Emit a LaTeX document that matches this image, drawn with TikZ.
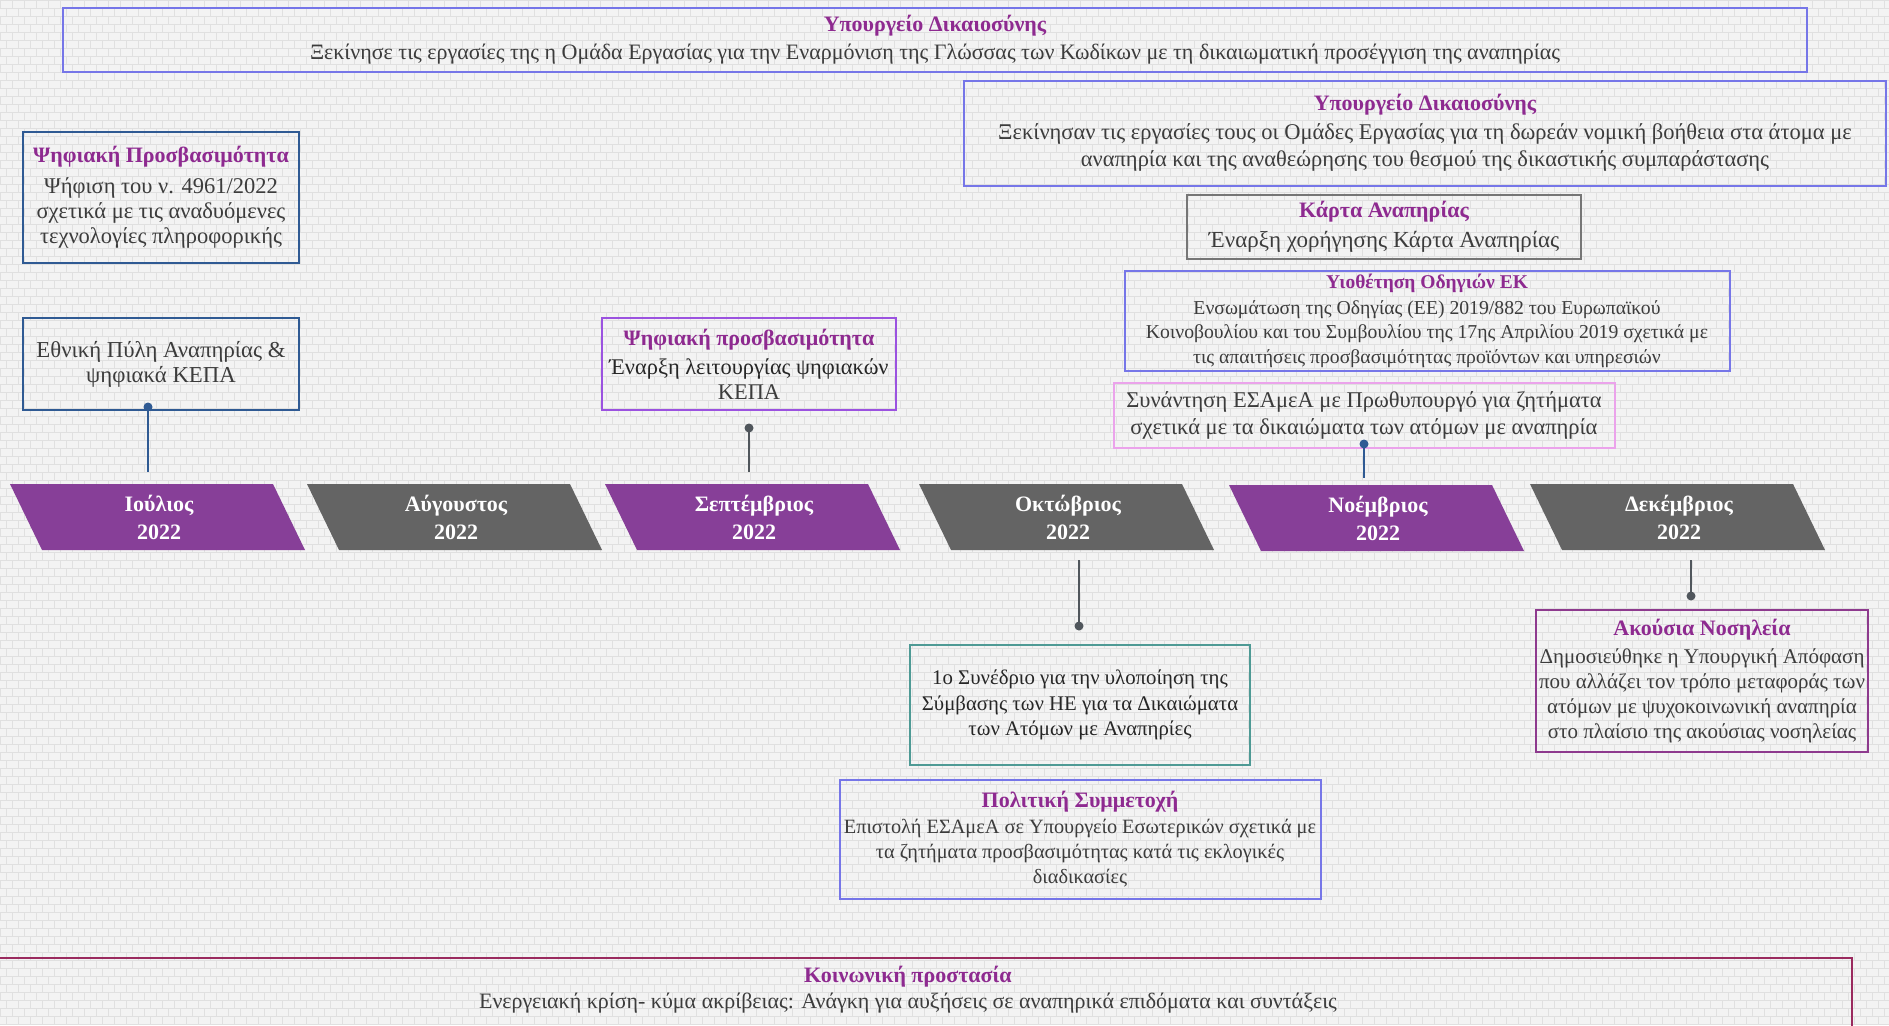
\documentclass[tikz,border=0pt]{standalone}
\usepackage{fontspec}
\setmainfont{Liberation Serif}
\definecolor{bgc}{HTML}{F3F3F3}
\definecolor{brickc}{HTML}{E0E0E0}
\definecolor{blueb}{HTML}{7676E8}
\definecolor{darkblue}{HTML}{2F5A93}
\definecolor{grayb}{HTML}{767676}
\definecolor{pinkb}{HTML}{EBA3EB}
\definecolor{violetb}{HTML}{9B52E0}
\definecolor{tealb}{HTML}{4E9A95}
\definecolor{plumb}{HTML}{8E3A8E}
\definecolor{maroonb}{HTML}{9A2A5E}
\definecolor{mpurple}{HTML}{873F98}
\definecolor{mgray}{HTML}{646464}
\definecolor{titlec}{HTML}{8E2A90}
\definecolor{bodyc}{HTML}{3C3C3C}
\definecolor{darkc}{HTML}{262626}
\definecolor{connc}{HTML}{50565C}
\newcommand\hd[1]{\textcolor{titlec}{\bfseries\fontsize{22}{25}\selectfont #1}}
\begin{document}
\begin{tikzpicture}[x=1pt,y=-1pt,
  evbox/.style={draw, line width=2pt, align=center, inner sep=0pt, text=bodyc,
    font=\fontsize{22}{25}\selectfont},
  mlabel/.style={text=white, align=center, font=\bfseries\fontsize{22}{28}\selectfont},
  conn/.style={line width=2.5pt}]
% background
\fill[bgc] (0,0) rectangle (1889,1025);
\useasboundingbox (0,0) rectangle (1889,1025);
\foreach \y in {0,8,...,1024} \draw[brickc, line width=0.6pt] (0,\y) -- (1889,\y);
\foreach \x in {0,12,...,1889} {
  \draw[brickc, line width=0.6pt, dash pattern=on 8pt off 8pt] (\x,0) -- (\x,1025);
  \draw[brickc, line width=0.6pt, dash pattern=on 8pt off 8pt, dash phase=8pt] (\x+6,0) -- (\x+6,1025);
}
% months
\foreach \xs/\yo/\c/\n/\lab in {10/0/mpurple/jul/Ιούλιος, 307/0/mgray/aug/Αύγουστος, 605/0/mpurple/sep/Σεπτέμβριος, 919/0/mgray/oct/Οκτώβριος, 1229/1/mpurple/nov/Νοέμβριος, 1530/0/mgray/dec/Δεκέμβριος}{
  \fill[\c] (\xs,484+\yo) -- ++(263,0) -- ++(32,66) -- ++(-263,0) -- cycle;
  \node[mlabel] (\n) at (\xs+149,517+\yo) {\lab\\2022};
}
% boxes
\node[evbox, draw=blueb, minimum width=1744pt, minimum height=64pt] (b1) at (935,40)
  {\hd{Υπουργείο Δικαιοσύνης}\\[3pt]Ξεκίνησε τις εργασίες της η Ομάδα Εργασίας για την Εναρμόνιση της Γλώσσας των Κωδίκων με τη δικαιωματική προσέγγιση της αναπηρίας};
\node[evbox, draw=blueb, minimum width=922pt, minimum height=105pt, font=\fontsize{22.5}{27}\selectfont] (b2) at (1425,133)
  {\hd{Υπουργείο Δικαιοσύνης}\\[2pt]Ξεκίνησαν τις εργασίες τους οι Ομάδες Εργασίας για τη δωρεάν νομική βοήθεια στα άτομα με\\αναπηρία και της αναθεώρησης του θεσμού της δικαστικής συμπαράστασης};
\node[evbox, draw=grayb, minimum width=394pt, minimum height=64pt, font=\fontsize{23}{25}\selectfont] (b3) at (1384,227)
  {\hd{Κάρτα Αναπηρίας}\\[5pt]Έναρξη χορήγησης Κάρτα Αναπηρίας};
\node[evbox, draw=blueb, minimum width=605pt, minimum height=100pt, font=\fontsize{19.7}{24.5}\selectfont] (b4) at (1427,321)
  {\textcolor{titlec}{\bfseries\fontsize{19.5}{24.5}\selectfont Υιοθέτηση Οδηγιών ΕΚ}\\[1pt]Ενσωμάτωση της Οδηγίας (ΕΕ) 2019/882 του Ευρωπαϊκού\\Κοινοβουλίου και του Συμβουλίου της 17ης Απριλίου 2019 σχετικά με\\τις απαιτήσεις προσβασιμότητας προϊόντων και υπηρεσιών};
\node[evbox, draw=pinkb, minimum width=501pt, minimum height=65pt, font=\fontsize{22.5}{27}\selectfont] (b5) at (1364,415)
  {Συνάντηση ΕΣΑμεΑ με Πρωθυπουργό για ζητήματα\\σχετικά με τα δικαιώματα των ατόμων με αναπηρία};
\node[evbox, draw=darkblue, minimum width=276pt, minimum height=131pt, font=\fontsize{22.5}{25}\selectfont] (b6) at (161,197)
  {\hd{Ψηφιακή Προσβασιμότητα}\\[6pt]Ψήφιση του ν. 4961/2022\\σχετικά με τις αναδυόμενες\\τεχνολογίες πληροφορικής};
\node[evbox, draw=darkblue, minimum width=276pt, minimum height=92pt, font=\fontsize{22.8}{25}\selectfont] (b7) at (161,364)
  {Εθνική Πύλη Αναπηρίας \&\\ψηφιακά ΚΕΠΑ};
\node[evbox, draw=violetb, minimum width=294pt, minimum height=92pt, font=\fontsize{22.4}{25}\selectfont] (b8) at (749,364)
  {\hd{Ψηφιακή προσβασιμότητα}\\[4pt]\textcolor{darkc}{Έναρξη λειτουργίας ψηφιακών}\\ΚΕΠΑ};
\node[evbox, draw=tealb, minimum width=340pt, minimum height=120pt, text=darkc, font=\fontsize{20.8}{25.5}\selectfont] (b9) at (1080,705)
  {1ο Συνέδριο για την υλοποίηση της\\Σύμβασης των ΗΕ για τα Δικαιώματα\\των Ατόμων με Αναπηρίες};
\node[evbox, draw=blueb, minimum width=481pt, minimum height=119pt, font=\fontsize{20.3}{25}\selectfont] (b10) at (1080,839)
  {\hd{Πολιτική Συμμετοχή}\\[1pt]Επιστολή ΕΣΑμεΑ σε Υπουργείο Εσωτερικών σχετικά με\\τα ζητήματα προσβασιμότητας κατά τις εκλογικές\\διαδικασίες};
\node[evbox, draw=plumb, minimum width=332pt, minimum height=142pt, font=\fontsize{21}{25}\selectfont] (b11) at (1702,681)
  {\hd{Ακούσια Νοσηλεία}\\[3pt]Δημοσιεύθηκε η Υπουργική Απόφαση\\που αλλάζει τον τρόπο μεταφοράς των\\ατόμων με ψυχοκοινωνική αναπηρία\\στο πλαίσιο της ακούσιας νοσηλείας};
\draw[maroonb, line width=2.5pt] (0,958) -- (1852,958) -- (1852,1030);
\node[align=center, inner sep=0pt, text=bodyc, font=\fontsize{22}{26}\selectfont] (b12) at (908,990)
  {\hd{Κοινωνική προστασία}\\Ενεργειακή κρίση- κύμα ακρίβειας: Ανάγκη για αυξήσεις σε αναπηρικά επιδόματα και συντάξεις};
% connectors
\coordinate (d1) at (148,407); \coordinate (e1) at (148,472);
\coordinate (d2) at (749,428); \coordinate (e2) at (749,472);
\coordinate (d3) at (1364,444); \coordinate (e3) at (1364,478);
\coordinate (d4) at (1079,626); \coordinate (e4) at (1079,560);
\coordinate (d5) at (1691,596); \coordinate (e5) at (1691,560);
\draw[conn, darkblue] (d1) -- (e1); \fill[darkblue] (d1) circle (4.5);
\draw[conn, connc] (d2) -- (e2); \fill[connc] (d2) circle (4.5);
\draw[conn, darkblue] (d3) -- (e3); \fill[darkblue] (d3) circle (4.5);
\draw[conn, connc] (d4) -- (e4); \fill[connc] (d4) circle (4.5);
\draw[conn, connc] (d5) -- (e5); \fill[connc] (d5) circle (4.5);
\end{tikzpicture}
\end{document}
